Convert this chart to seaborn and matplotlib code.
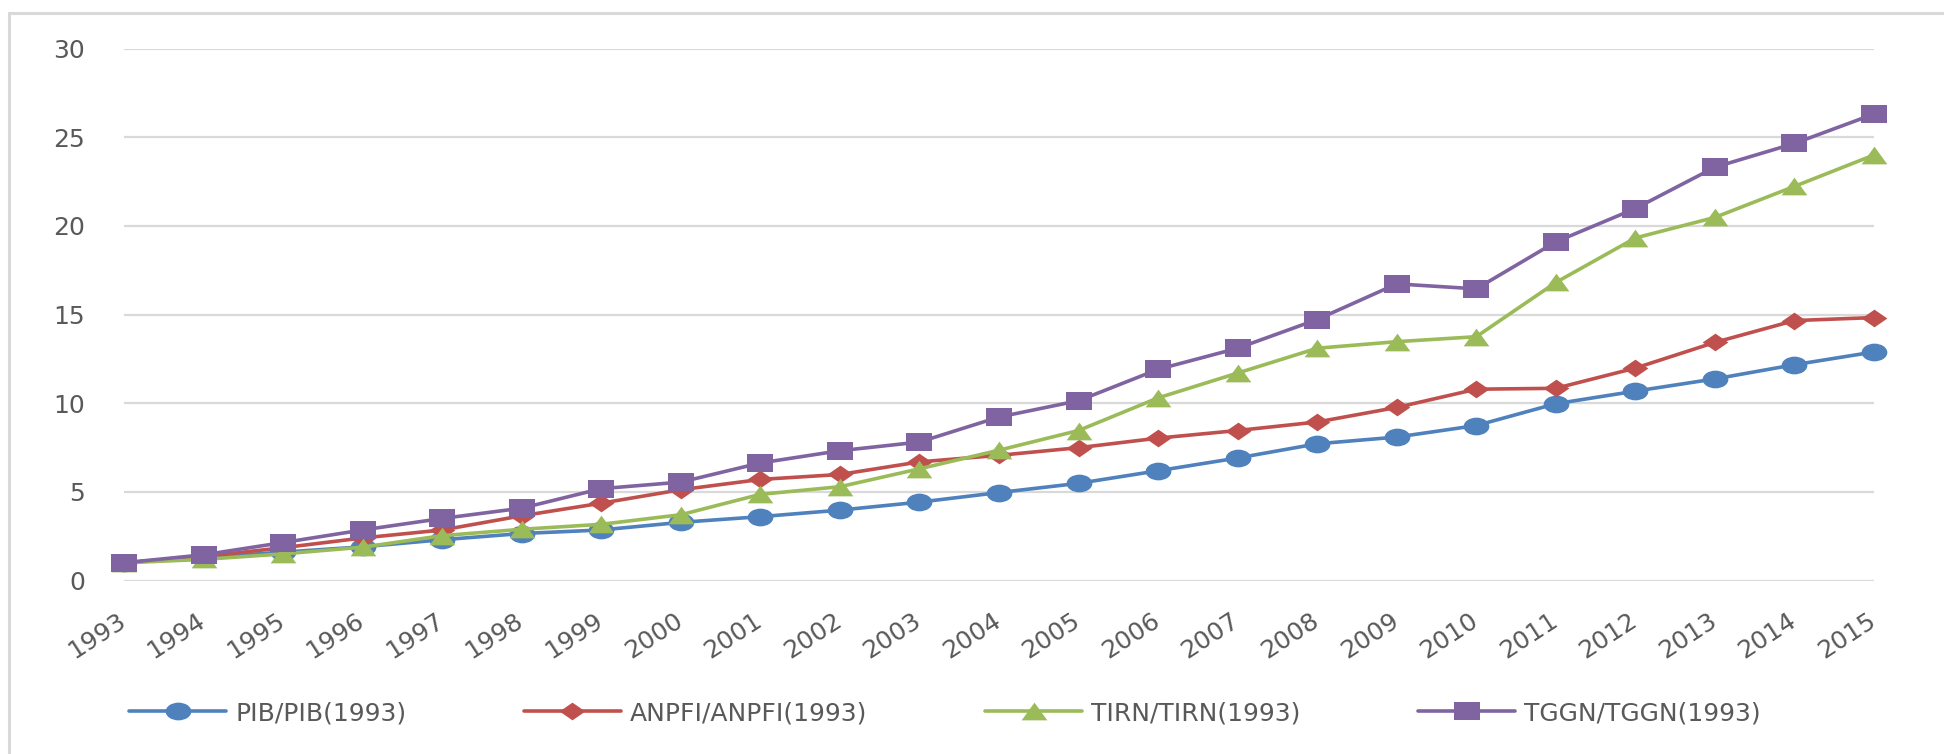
import matplotlib
matplotlib.use("Agg")
import matplotlib.pyplot as plt
from matplotlib.path import Path
from matplotlib.transforms import Affine2D, ScaledTranslation
from matplotlib.patches import Rectangle
import pandas as pd
import seaborn as sns

years = list(range(1993, 2016))
pib = [1.0, 1.3, 1.6, 1.9, 2.3, 2.65, 2.85, 3.28, 3.6, 3.97, 4.42, 4.96, 5.48,
       6.19, 6.91, 7.71, 8.09, 8.74, 9.97, 10.68, 11.37, 12.17, 12.89]
anpfi = [1.0, 1.35, 1.85, 2.4, 2.85, 3.65, 4.36, 5.12, 5.7, 5.98, 6.69, 7.06,
         7.49, 8.03, 8.46, 8.94, 9.76, 10.79, 10.84, 11.98, 13.43, 14.66, 14.83]
tirn = [1.0, 1.19, 1.5, 1.88, 2.53, 2.89, 3.17, 3.71, 4.86, 5.29, 6.3, 7.35,
        8.46, 10.3, 11.7, 13.1, 13.47, 13.75, 16.81, 19.32, 20.48, 22.23, 24.0]
tggn = [1.0, 1.45, 2.14, 2.85, 3.5, 4.08, 5.18, 5.55, 6.63, 7.32, 7.81, 9.22,
        10.14, 11.91, 13.1, 14.72, 16.73, 16.45, 19.1, 20.98, 23.31, 24.65, 26.31]

series = ["PIB/PIB(1993)", "ANPFI/ANPFI(1993)", "TIRN/TIRN(1993)", "TGGN/TGGN(1993)"]
colors = ["#4F81BD", "#C0504D", "#9BBB59", "#8064A2"]

df = pd.DataFrame({
    "year": years * 4,
    "value": pib + anpfi + tirn + tggn,
    "serie": [s for s in series for _ in years],
})

# markers a bit wider than tall, like the original chart
sx = Affine2D().scale(1.45, 1.0)
m_circle = sx.transform_path(Path.unit_circle())
m_square = Path([(-1.45, -1), (1.45, -1), (1.45, 1), (-1.45, 1), (-1.45, -1)], closed=True)
m_diamond = Path([(0, 1), (1.45, 0), (0, -1), (-1.45, 0), (0, 1)], closed=True)
m_triangle = Path([(0, 1), (1.45, -1), (-1.45, -1), (0, 1)], closed=True)
markers = dict(zip(series, [m_circle, m_diamond, m_triangle, m_square]))

sns.set_style("white")
plt.rcParams["font.family"] = ["DejaVu Sans"]
grey = "#595959"
msize = 18.5
lw = 2.6

fig = plt.figure(figsize=(19.44, 7.54), dpi=100)
ax = fig.add_axes([124 / 1944, 173.5 / 754, 1750 / 1944, 531.9 / 754])

sns.lineplot(data=df, x="year", y="value", hue="serie", style="serie",
             palette=dict(zip(series, colors)), markers=markers, dashes=False,
             linewidth=lw, markersize=msize, markeredgewidth=0, ax=ax,
             clip_on=False, zorder=3)

ax.set_xlim(1993, 2015)
ax.set_ylim(0, 30)
ax.set_yticks(range(0, 31, 5))
ax.set_xticks(years)
ax.set_xticklabels([str(y) for y in years], rotation=33, ha="right", va="top")
ax.tick_params(axis="y", length=0, pad=28, labelsize=18, labelcolor=grey)
ax.tick_params(axis="x", length=0, pad=20, labelsize=18, labelcolor=grey)
shift = ScaledTranslation(6 / 100, 0, fig.dpi_scale_trans)
for lab in ax.get_xticklabels():
    lab.set_transform(lab.get_transform() + shift)
ax.grid(axis="y", color="#D9D9D9", linewidth=1.6)
ax.grid(axis="x", visible=False)
ax.set_axisbelow(True)
for sp in ax.spines.values():
    sp.set_visible(False)
ax.set_xlabel("")
ax.set_ylabel("")

handles, labels = ax.get_legend_handles_labels()
for h in handles:
    h.set_markersize(msize)
    h.set_markeredgewidth(0)
    h.set_linewidth(lw)
ax.legend(handles, labels, loc="center", bbox_to_anchor=(0.486, 41 / 754),
          bbox_transform=fig.transFigure, ncol=4, frameon=False, fontsize=18,
          labelcolor=grey, handlelength=3.9, handletextpad=0.35,
          columnspacing=4.7, numpoints=1)

# chart area border
fig.add_artist(Rectangle((9 / 1944, -0.1), 1.2, 1.1 - 13 / 754,
                         transform=fig.transFigure, fill=False,
                         edgecolor="#D9D9D9", linewidth=2.2, clip_on=False))

fig.savefig("out.png", dpi=100)
